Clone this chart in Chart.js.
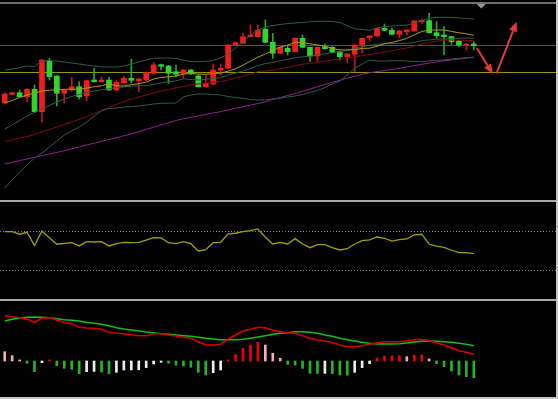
<!DOCTYPE html>
<html>
<head>
<meta charset="utf-8">
<script src="https://cdn.jsdelivr.net/npm/chart.js@4.4.1/dist/chart.umd.min.js"></script>
<style>
    html, body { margin: 0; padding: 0; background: #000; }
    #wrap { position: relative; width: 558px; height: 399px; background: #000; overflow: hidden; }
    #wrap canvas { position: absolute; left: 0; }
    .bar { position: absolute; background: #a9a9a9; }
</style>
</head>
<body>
<div id="wrap">
    <div class="bar" style="left:0;top:2px;width:558px;height:2px;background:#6e6e6e"></div>
    <canvas id="mainChart" width="558" height="195" style="top:4px"></canvas>
    <div class="bar" style="left:0;top:200px;width:558px;height:2px"></div>
    <canvas id="rsiChart" width="558" height="97" style="top:202px"></canvas>
    <div class="bar" style="left:0;top:299px;width:558px;height:2px"></div>
    <canvas id="macdChart" width="558" height="96" style="top:301px"></canvas>
    <div class="bar" style="left:556px;top:0;width:2px;height:399px;background:#c4c4c4"></div>
    <div class="bar" style="left:0;top:397px;width:558px;height:2px;background:#c4c4c4"></div>
</div>

<script>
// ── DATA ──────────────────────────────────────────────────────
const SLOTS = 74; // 64 bars + empty space on the right

const opens = [59.70,60.57,60.73,60.33,61.07,58.83,63.93,62.40,60.67,61.00,
    61.33,60.40,62.00,61.83,62.00,61.00,61.73,62.17,61.90,62.00,
    62.67,63.53,63.40,62.83,62.60,63.00,62.40,61.33,61.60,63.00,
    63.17,65.50,65.67,66.33,66.33,67.07,65.77,64.67,65.17,64.83,
    66.17,65.27,64.40,65.33,65.27,64.83,64.33,64.57,65.50,66.23,
    66.40,67.17,66.97,66.57,66.83,66.90,67.83,67.93,66.73,66.50,
    66.33,65.90,65.50,65.60];
const highs = [60.70,60.80,61.00,61.15,61.50,64.05,64.15,62.45,61.05,62.27,
    61.83,62.00,63.17,62.30,62.30,62.00,62.40,64.07,62.15,62.80,
    63.73,63.58,63.45,63.50,63.05,63.05,62.50,62.50,63.60,63.60,
    65.55,65.80,66.70,67.50,67.50,68.00,66.67,65.32,65.50,66.22,
    66.50,65.32,65.32,65.60,65.32,64.88,64.65,65.55,66.22,66.45,
    67.22,67.60,67.20,66.95,67.05,67.95,68.10,68.67,67.83,67.33,
    66.38,65.95,65.65,65.83];
const lows = [59.60,60.50,60.30,59.83,58.75,57.80,62.00,59.40,59.70,60.90,
    60.10,59.93,61.80,61.80,60.95,60.95,61.70,61.70,60.83,61.95,
    62.65,63.00,61.67,62.33,62.20,62.55,61.30,61.30,61.55,62.50,
    63.12,65.45,65.62,66.30,66.30,65.72,64.17,64.62,64.50,64.78,
    65.22,63.83,63.83,65.08,64.72,64.00,63.73,62.83,64.70,65.90,
    66.35,66.92,66.52,66.23,66.50,66.85,67.60,66.68,66.20,64.50,
    65.57,65.33,65.00,65.00];
const closes = [60.60,60.73,60.33,61.07,58.83,64.00,62.33,60.67,61.00,61.33,
    60.33,61.93,61.83,62.00,61.00,61.77,62.17,61.97,62.10,62.77,
    63.50,63.37,62.67,62.57,63.00,62.60,61.33,61.67,63.00,63.17,
    65.50,65.73,66.33,66.50,67.00,65.77,64.67,65.27,64.83,66.17,
    65.27,64.40,65.27,65.13,64.77,64.33,64.60,65.50,66.17,66.40,
    67.17,66.97,66.57,66.90,67.00,67.90,67.97,66.73,66.43,66.33,
    65.83,65.50,65.60,65.43];

const ma10 = [59.70,59.95,60.25,60.50,60.70,60.90,60.98,61.04,61.07,61.09,
    61.06,61.18,61.33,61.42,61.64,61.42,61.40,61.53,61.64,61.79,
    62.10,62.25,62.33,62.39,62.59,62.67,62.59,62.56,62.65,62.69,
    62.89,63.12,63.49,63.88,64.28,64.60,64.93,65.29,65.48,65.78,
    65.75,65.62,65.51,65.38,65.15,65.01,65.00,65.03,65.16,65.18,
    65.37,65.63,65.76,65.94,66.16,66.52,66.85,66.98,67.00,67.00,
    66.86,66.72,66.62,66.47];
const bollMid = [57.10,57.50,57.95,58.40,58.75,59.10,59.45,59.80,60.10,60.35,
    60.55,60.75,60.90,61.02,61.12,61.22,61.30,61.37,61.42,61.44,
    61.58,61.71,61.83,61.91,62.12,62.05,62.00,62.05,62.15,62.24,
    62.50,62.69,62.91,63.14,63.44,63.64,63.76,63.93,64.06,64.23,
    64.32,64.37,64.50,64.63,64.72,64.81,64.97,65.16,65.32,65.48,
    65.56,65.63,65.64,65.66,65.66,65.76,65.93,66.00,66.08,66.09,
    66.12,66.17,66.19,66.20];
const bollUp = [63.00,63.10,63.25,63.40,63.35,63.90,63.95,63.90,63.80,63.70,
    63.60,63.50,63.40,63.30,63.30,63.30,63.40,63.60,63.80,64.00,
    64.17,64.20,64.20,64.15,64.00,63.85,63.83,63.85,63.95,64.20,
    64.60,65.20,65.80,66.50,67.00,67.30,67.45,67.55,67.65,67.70,
    67.77,67.82,67.85,67.88,67.85,67.75,67.44,67.12,67.06,66.97,
    67.20,67.35,67.40,67.43,67.50,67.67,67.95,68.17,68.25,68.27,
    68.25,68.20,68.15,68.10];
const bollLow = [51.20,52.00,52.80,53.50,54.20,54.70,55.30,55.90,56.50,56.90,
    57.30,57.80,58.40,58.90,59.15,59.20,59.30,59.33,59.40,59.50,
    59.60,59.67,59.68,59.70,60.30,60.50,60.60,60.60,60.55,60.50,
    60.35,60.25,60.15,60.05,60.00,60.00,60.10,60.17,60.30,60.40,
    60.55,60.75,60.95,61.25,61.60,61.90,62.50,63.20,63.58,63.99,
    63.90,63.90,63.92,63.93,63.90,63.85,63.83,63.90,63.97,64.02,
    64.10,64.17,64.23,64.30];
const ma30 = [55.85,56.00,56.20,56.35,56.55,56.80,57.05,57.30,57.55,57.80,
    58.05,58.35,58.65,58.95,59.25,59.55,59.85,60.10,60.30,60.50,
    60.70,60.90,61.05,61.20,61.35,61.50,61.60,61.70,61.78,61.85,
    62.02,62.18,62.38,62.57,62.84,62.90,62.97,63.13,63.26,63.42,
    63.58,63.66,63.78,63.88,64.01,64.09,64.18,64.29,64.43,64.55,
    64.67,64.79,64.92,65.07,65.20,65.38,65.60,65.77,65.88,65.99,
    66.00,65.99,65.97,65.93];
const ma60 = [53.60,53.77,53.94,54.10,54.27,54.43,54.60,54.76,54.93,55.12,
    55.30,55.50,55.68,55.86,56.05,56.23,56.42,56.62,56.84,57.06,
    57.28,57.50,57.72,57.95,58.13,58.27,58.41,58.56,58.70,58.84,
    59.01,59.17,59.33,59.49,59.65,59.83,60.05,60.25,60.45,60.65,
    60.87,61.10,61.32,61.54,61.76,61.98,62.18,62.38,62.58,62.73,
    62.84,62.94,63.05,63.16,63.30,63.44,63.57,63.69,63.80,63.92,
    64.01,64.09,64.17,64.25];

const priceLine = 65.50;   // grey horizontal line
const levelLine = 62.80;   // yellow horizontal line
// arrows: [fromIndex, fromPrice, toIndex, toPrice]
const arrows = [[63.4, 65.20, 65.55, 62.60], [66.05, 62.67, 68.75, 67.83]];

const rsi = [69.3,69.3,66.7,68.7,55.1,70.0,63.2,56.5,57.5,58.1,
    54.8,59.1,58.8,59.1,54.8,57.1,58.5,58.1,58.5,60.6,
    63.2,62.9,58.1,57.1,59.1,57.1,49.7,51.0,58.1,58.5,
    67.0,67.7,69.3,70.3,72.1,63.6,56.8,58.5,56.8,62.2,
    56.8,53.0,56.1,56.1,53.0,50.7,52.0,56.8,60.2,60.9,
    63.9,62.6,59.8,61.2,61.9,66.0,66.7,56.5,54.5,53.4,
    50.4,47.9,47.9,46.9];
const rsiLevels = [70, 30];

const dif = [0.453,0.443,0.433,0.420,0.387,0.427,0.433,0.410,0.387,0.373,
    0.337,0.330,0.327,0.317,0.287,0.277,0.273,0.263,0.253,0.253,
    0.273,0.273,0.260,0.250,0.237,0.227,0.193,0.160,0.160,0.167,
    0.217,0.260,0.300,0.317,0.337,0.333,0.307,0.293,0.283,0.277,
    0.253,0.227,0.210,0.200,0.183,0.160,0.143,0.143,0.153,0.167,
    0.183,0.193,0.193,0.193,0.200,0.213,0.217,0.203,0.183,0.160,
    0.133,0.103,0.087,0.067];
const dea = [0.400,0.417,0.430,0.437,0.440,0.437,0.433,0.423,0.413,0.407,
    0.400,0.387,0.377,0.367,0.353,0.333,0.320,0.310,0.300,0.290,
    0.283,0.273,0.267,0.260,0.253,0.247,0.237,0.227,0.220,0.213,
    0.213,0.213,0.217,0.227,0.240,0.253,0.267,0.278,0.283,0.293,
    0.293,0.287,0.277,0.260,0.247,0.227,0.213,0.200,0.187,0.177,
    0.170,0.170,0.170,0.173,0.180,0.190,0.197,0.200,0.197,0.193,
    0.187,0.177,0.167,0.153];
const hist = [0.093,0.053,0.005,-0.023,-0.107,-0.017,0.003,-0.047,-0.073,-0.083,
    -0.127,-0.107,-0.104,-0.110,-0.127,-0.113,-0.090,-0.089,-0.088,-0.067,
    -0.030,-0.013,-0.023,-0.040,-0.050,-0.063,-0.113,-0.140,-0.117,-0.090,
    0.005,0.067,0.127,0.160,0.187,0.160,0.077,0.027,-0.033,-0.040,
    -0.073,-0.123,-0.125,-0.123,-0.126,-0.140,-0.142,-0.113,-0.067,-0.027,
    0.027,0.050,0.051,0.053,0.043,0.060,0.061,0.020,-0.027,-0.057,
    -0.100,-0.140,-0.157,-0.167];

// ── HELPERS ───────────────────────────────────────────────────
const labels = Array.from({ length: SLOTS }, (_, i) => String(i + 1));
const UP = '#f21c1c', DOWN = '#2fd52f';
const upDown = opens.map((o, i) => closes[i] >= o);

function baseOptions(yMin, yMax) {
    return {
        responsive: false,
        animation: false,
        devicePixelRatio: 1,
        layout: { padding: { left: 1, right: 6, top: 0, bottom: 0 } },
        plugins: { legend: { display: false }, tooltip: { enabled: false } },
        scales: {
            x: { type: 'category', offset: true, display: false, grid: { display: false } },
            y: { display: false, min: yMin, max: yMax, grid: { display: false } }
        }
    };
}

function lineSet(data, color, width, order) {
    return { type: 'line', data, borderColor: color, borderWidth: width, pointRadius: 0, tension: 0, order };
}

function hLine(ctx, area, y, color, dash) {
    const py = Math.round(y) + 0.5;
    ctx.save();
    ctx.strokeStyle = color;
    ctx.lineWidth = 1;
    ctx.setLineDash(dash || []);
    ctx.beginPath();
    ctx.moveTo(0, py);
    ctx.lineTo(area.right + 6, py);
    ctx.stroke();
    ctx.restore();
}

function drawArrow(ctx, x1, y1, x2, y2, color) {
    const ang = Math.atan2(y2 - y1, x2 - x1);
    const head = 10, half = 4;
    const bx = x2 - head * Math.cos(ang), by = y2 - head * Math.sin(ang);
    ctx.strokeStyle = color;
    ctx.fillStyle = color;
    ctx.lineWidth = 2;
    ctx.beginPath(); ctx.moveTo(x1, y1); ctx.lineTo(bx, by); ctx.stroke();
    ctx.beginPath();
    ctx.moveTo(x2, y2);
    ctx.lineTo(bx + half * Math.sin(ang), by - half * Math.cos(ang));
    ctx.lineTo(bx - half * Math.sin(ang), by + half * Math.cos(ang));
    ctx.closePath();
    ctx.fill();
}

// ── MAIN PRICE PANEL ──────────────────────────────────────────
const mainOverlay = {
    id: 'mainOverlay',
    beforeDatasetsDraw(chart) {
        const { ctx, chartArea, scales: { y } } = chart;
        hLine(ctx, chartArea, y.getPixelForValue(priceLine), '#4f4f4f');
        hLine(ctx, chartArea, y.getPixelForValue(levelLine), '#9a9600');
    },
    afterDatasetsDraw(chart) {
        const { ctx, scales: { x, y } } = chart;
        ctx.save();
        arrows.forEach(a => drawArrow(ctx,
            x.getPixelForValue(a[0]), y.getPixelForValue(a[1]),
            x.getPixelForValue(a[2]), y.getPixelForValue(a[3]), '#e63a3a'));
        // small marker at the top edge over the last bar
        const mx = x.getPixelForValue(opens.length);
        ctx.fillStyle = '#8a97a9';
        ctx.beginPath();
        ctx.moveTo(mx - 4.5, 0); ctx.lineTo(mx + 4.5, 0); ctx.lineTo(mx, 4.5);
        ctx.closePath(); ctx.fill();
        ctx.restore();
    }
};

const mainOpts = baseOptions(50.1, 69.6);
new Chart(document.getElementById('mainChart'), {
    type: 'bar',
    data: {
        labels,
        datasets: [
            lineSet(ma10, '#aaa000', 1, 0),
            lineSet(bollUp, '#2d5b49', 1, 1),
            lineSet(bollMid, '#2d5b49', 1, 1),
            lineSet(bollLow, '#2d5b49', 1, 1),
            lineSet(ma30, '#7e0c0c', 1, 1),
            lineSet(ma60, '#951c95', 1, 1),
            {
                type: 'bar', order: 2, grouped: false, barThickness: 5, minBarLength: 1,
                data: opens.map((o, i) => [o, closes[i]]),
                backgroundColor: upDown.map(u => u ? UP : DOWN),
                borderWidth: 0
            },
            {
                type: 'bar', order: 3, grouped: false, barThickness: 1,
                data: lows.map((l, i) => [l, highs[i]]),
                backgroundColor: upDown.map(u => u ? '#c81414' : '#25a825'),
                borderWidth: 0
            }
        ]
    },
    options: mainOpts,
    plugins: [mainOverlay]
});

// ── RSI PANEL ─────────────────────────────────────────────────
const rsiOverlay = {
    id: 'rsiOverlay',
    beforeDatasetsDraw(chart) {
        const { ctx, chartArea, scales: { y } } = chart;
        rsiLevels.forEach(v => hLine(ctx, chartArea, y.getPixelForValue(v), '#7a7a7a', [1, 2]));
    }
};

new Chart(document.getElementById('rsiChart'), {
    type: 'line',
    data: { labels, datasets: [lineSet(rsi, '#a49f00', 1.3, 0)] },
    options: baseOptions(0.8, 99.5),
    plugins: [rsiOverlay]
});

// ── MACD PANEL ────────────────────────────────────────────────
const histColors = hist.map((v, i) => {
    const prev = i > 0 ? hist[i - 1] : v + 1;
    if (v >= 0) return v >= prev ? '#ee0000' : '#efb0b8';
    return v <= prev ? '#22b522' : '#eeeeee';
});

new Chart(document.getElementById('macdChart'), {
    type: 'bar',
    data: {
        labels,
        datasets: [
            lineSet(dif, '#d40000', 1.6, 0),
            lineSet(dea, '#10c010', 1.6, 0),
            {
                type: 'bar', order: 2, barThickness: 2, minBarLength: 1,
                data: hist, backgroundColor: histColors, borderWidth: 0
            }
        ]
    },
    options: baseOptions(-0.36, 0.60)
});
</script>
</body>
</html>
